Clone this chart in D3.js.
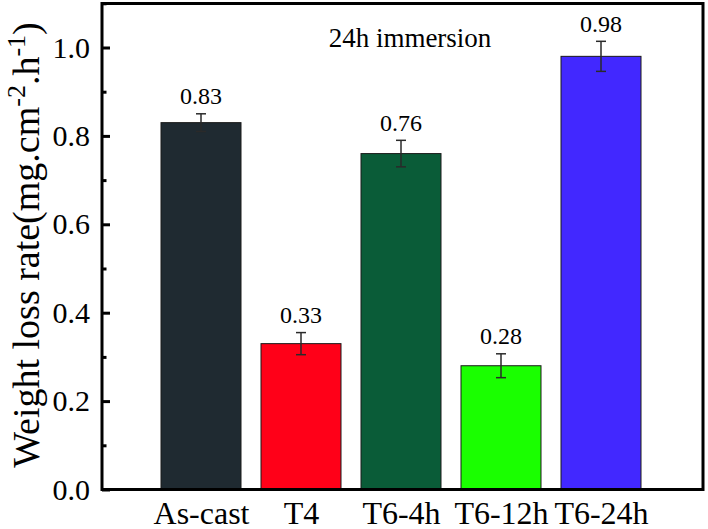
<!DOCTYPE html>
<html>
<head>
<meta charset="utf-8">
<script src="https://cdn.jsdelivr.net/npm/d3@7"></script>
<style>
  html, body { margin: 0; padding: 0; background: #fff; }
  svg { display: block; }
  text { font-family: "Liberation Serif", "Times New Roman", serif; fill: #000; }
</style>
</head>
<body>
<svg id="chart" width="708" height="529"></svg>
<script>
// ---- data ----
const categories = ["As-cast", "T4", "T6-4h", "T6-12h", "T6-24h"];
const values = [0.83, 0.33, 0.76, 0.28, 0.98];
const errors = [0.02, 0.025, 0.03, 0.027, 0.034];
const valueLabels = ["0.83", "0.33", "0.76", "0.28", "0.98"];
const barColors = ["#1f2a31", "#ff0018", "#0a5c38", "#1aff00", "#4228ff"];
const yTicks = [0.0, 0.2, 0.4, 0.6, 0.8, 1.0];
const yMinorTicks = [0.1, 0.3, 0.5, 0.7, 0.9, 1.1];
const title = "24h immersion";

// ---- layout ----
const svg = d3.select("#chart");
const frame = { left: 102, right: 703, top: 3.5, bottom: 489.5 };

const x = d3.scaleLinear().domain([0, 6]).range([101, 701]);
const y = d3.scaleLinear().domain([0, 1.1]).range([489.5, 3.3]);
const barW = x(0.8) - x(0);

// bars
svg.append("g").selectAll("rect")
  .data(values)
  .join("rect")
  .attr("x", (d, i) => x(i + 1) - barW / 2)
  .attr("y", d => y(d))
  .attr("width", barW)
  .attr("height", d => y(0) - y(d))
  .attr("fill", (d, i) => barColors[i])
  .attr("stroke", "#1a1a1a")
  .attr("stroke-width", 1);

// error bars
const eg = svg.append("g").attr("stroke", "#2a2a2a").attr("stroke-width", 1.5);
values.forEach((v, i) => {
  const cx = x(i + 1);
  const e = errors[i];
  eg.append("line").attr("x1", cx).attr("x2", cx).attr("y1", y(v + e)).attr("y2", y(v - e));
  eg.append("line").attr("x1", cx - 5).attr("x2", cx + 5).attr("y1", y(v + e)).attr("y2", y(v + e));
  eg.append("line").attr("x1", cx - 5).attr("x2", cx + 5).attr("y1", y(v - e)).attr("y2", y(v - e));
});

// value labels
svg.append("g").selectAll("text")
  .data(values)
  .join("text")
  .attr("x", (d, i) => x(i + 1))
  .attr("y", (d, i) => y(d + errors[i]) - 9.5)
  .attr("text-anchor", "middle")
  .attr("font-size", 24)
  .text((d, i) => valueLabels[i]);

// y axis (inward ticks)
const yAxis = d3.axisLeft(y).tickValues(yTicks).tickFormat(d3.format(".1f"))
  .tickSizeInner(-8).tickSizeOuter(0).tickPadding(12);
const gy = svg.append("g").attr("transform", `translate(${frame.left},0)`).call(yAxis);
gy.select(".domain").remove();
gy.selectAll(".tick line").attr("stroke", "#000").attr("stroke-width", 3);
gy.selectAll(".tick text").attr("font-size", 30).attr("font-family", "Liberation Serif").attr("fill", "#000");

const yMinor = d3.axisLeft(y).tickValues(yMinorTicks).tickFormat("").tickSizeInner(-4.5).tickSizeOuter(0);
const gym = svg.append("g").attr("transform", `translate(${frame.left},0)`).call(yMinor);
gym.select(".domain").remove();
gym.selectAll(".tick line").attr("stroke", "#000").attr("stroke-width", 3);

// x axis labels
const xAxis = d3.axisBottom(x).tickValues(d3.range(1, categories.length + 1))
  .tickFormat(d => categories[d - 1]).tickSize(0).tickPadding(0);
const gx = svg.append("g").attr("transform", `translate(0,${frame.bottom})`).call(xAxis);
gx.select(".domain").remove();
gx.selectAll(".tick text").attr("font-size", 32).attr("font-family", "Liberation Serif")
  .attr("fill", "#000").attr("dy", null).attr("y", 34);

// frame
svg.append("rect")
  .attr("x", frame.left).attr("y", frame.top)
  .attr("width", frame.right - frame.left).attr("height", frame.bottom - frame.top)
  .attr("fill", "none").attr("stroke", "#000").attr("stroke-width", 3);

// title
svg.append("text").attr("x", 410).attr("y", 47).attr("text-anchor", "middle")
  .attr("font-size", 27).text(title);

// y axis title
const yt = svg.append("text")
  .attr("transform", "translate(39,245) rotate(-90)")
  .attr("text-anchor", "middle")
  .attr("font-size", 38);
yt.append("tspan").text("Weight loss rate(mg.cm");
yt.append("tspan").attr("font-size", 26).attr("dy", -14).text("-2");
yt.append("tspan").attr("dy", 14).text(".h");
yt.append("tspan").attr("font-size", 26).attr("dy", -14).text("-1");
yt.append("tspan").attr("dy", 14).text(")");
</script>
</body>
</html>
